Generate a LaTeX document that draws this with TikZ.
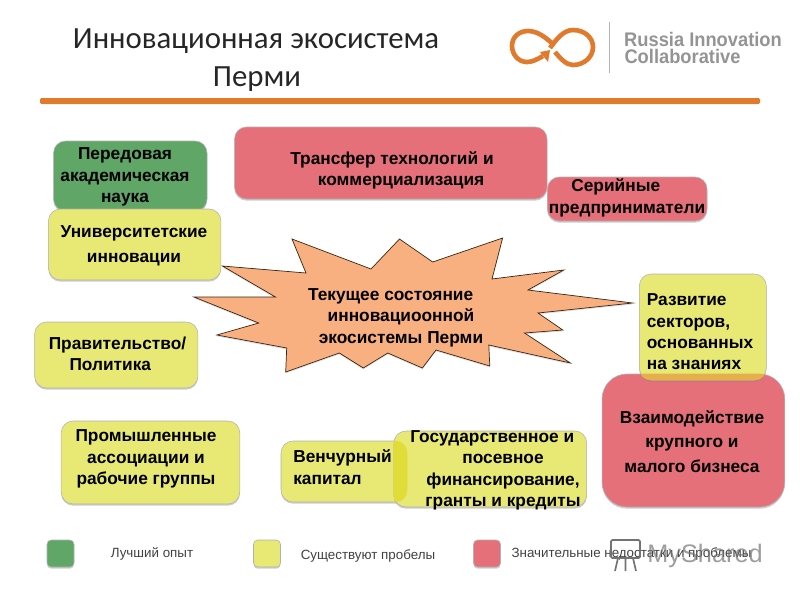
\documentclass[tikz,border=0pt]{standalone}
\usepackage{fontspec}
\setmainfont{Liberation Sans}
\newfontfamily\titlefont{Carlito}
\usetikzlibrary{shadows}
\definecolor{boxgreen}{HTML}{5FA667}
\definecolor{boxyellow}{HTML}{E8E874}
\definecolor{boxred}{HTML}{E6707A}
\definecolor{starfill}{HTML}{F9B080}
\definecolor{logoorange}{HTML}{E07B2E}
\definecolor{overlapyellow}{HTML}{E0DC38}
\definecolor{overlaporange}{HTML}{E4B04C}
\tikzset{
  box/.style={rectangle,rounded corners=12*0.025cm,draw=black!30,line width=.4pt,
    drop shadow={shadow xshift=0pt,shadow yshift=-1.2pt,opacity=.4}},
  boxsize/.style 2 args={minimum width=#1*0.025cm,minimum height=#2*0.025cm},
  boxtext/.style={align=center,font=\fontsize{12.3}{15.2}\selectfont\bfseries,inner sep=0pt},
  widetext/.style={boxtext,font=\fontsize{12.3}{17.6}\selectfont\bfseries},
  legendtext/.style={font=\fontsize{9.5}{11}\selectfont,text=black!75,inner sep=0pt},
  brandtext/.style={font=\fontsize{14}{16}\selectfont\bfseries,text=black!42,inner sep=0pt,xscale=.93},
  titletext/.style={font=\titlefont\fontsize{21.9}{26}\selectfont,text=black!85,inner sep=0pt},
}
\begin{document}
\begin{tikzpicture}[x=0.025cm,y=-0.025cm]
\useasboundingbox (0,0) rectangle (800,600);
%Header
\node at (256,41) [titletext] (Title1) {Инновационная экосистема};
\node at (257,79) [titletext] (Title2) {Перми};
\fill [logoorange,rounded corners=1pt] (40,98) rectangle (760,104);
\draw [black!30,line width=.7pt] (609,22) -- (609,73);
\draw [logoorange,line width=3.3pt] (543,56) .. controls (536,60) and (532,62) .. (527,62)
  .. controls (518,62) and (512,54) .. (512,46) .. controls (512,37) and (519,31) .. (528,31)
  .. controls (538,31) and (546,38) .. (553,44);
\draw [logoorange,line width=3.3pt] (550,48) .. controls (556,40) and (563,30) .. (573,30)
  .. controls (585,30) and (593,38) .. (593,47) .. controls (593,57) and (584,65) .. (573,65)
  .. controls (566,65) and (560,58) .. (555,52);
\fill [logoorange] (540,52) -- (550,50) -- (548,62) -- cycle;
\node at (703,39) [brandtext] (Brand1) {Russia Innovation};
\node at (682.5,56.5) [brandtext] (Brand2) {Collaborative};
%Star
\draw [black!70!brown,fill=starfill,line width=.5pt,drop shadow={shadow xshift=0pt,shadow yshift=-1pt,opacity=.25}]
  (222.4,266) -- (306,273) -- (292,239) -- (371,269) -- (399.5,239) -- (432.7,262) -- (502.6,238)
  -- (492,279) -- (563.8,270) -- (528,290) -- (632.7,303) -- (538,313) -- (562.8,330) -- (524.5,333)
  -- (570.4,363) -- (488.8,345) -- (489.8,366) -- (436,350) -- (422.4,368) -- (387.8,353) -- (363.3,368)
  -- (339.3,353) -- (285.7,372) -- (286.7,348) -- (216.8,335) -- (258.7,323) -- (193.9,297) -- (275.5,297) -- cycle;
%Boxes
\node at (130.3,176) [box,boxsize={153.5}{70},fill=boxgreen] (Science) {};
\node at (134.7,244.5) [box,boxsize={172.5}{71},fill=boxyellow] (University) {};
\node at (390.8,163) [box,boxsize={312.5}{72},fill=boxred] (Transfer) {};
\node at (627.2,199) [box,boxsize={159.6}{44},fill=boxred] (Serial) {};
\node at (693.4,440.5) [box,boxsize={182.7}{133},fill=boxred,rounded corners=25*0.025cm] (Business) {};
\node at (702.8,327) [box,boxsize={127}{106},fill=boxyellow] (Sectors) {};
\node at (116.3,355) [box,boxsize={163.3}{66},fill=boxyellow] (Policy) {};
\node at (150.5,462.5) [box,boxsize={178.6}{83},fill=boxyellow] (Industry) {};
\node at (344,471.5) [box,boxsize={126}{61},fill=boxyellow] (Venture) {};
\node at (490.3,469) [box,boxsize={192.8}{76},fill=boxyellow] (Funding) {};
%Overlaps
\begin{scope}
\clip [rounded corners=12*0.025cm] (Venture.south west) rectangle (Venture.north east);
\fill [rounded corners=12*0.025cm,fill=overlapyellow] (Funding.south west) rectangle (Funding.north east);
\end{scope}
\begin{scope}
\clip [rounded corners=25*0.025cm] (Business.south west) rectangle (Business.north east);
\fill [rounded corners=12*0.025cm,fill=overlaporange] (Sectors.south west) rectangle (Sectors.north east);
\end{scope}
%Node Labels
\node at (125,177) [boxtext] (ScienceLabel) {Передовая\\академическая\\наука};
\node at (134,245.5) [widetext] (UniversityLabel) {Университетские\\инновации};
\node at (392,170.5) [boxtext] (TransferLabel) {Трансфер технологий и\\\hspace*{1.05em}коммерциализация};
\node at (627,198) [boxtext] (SerialLabel) {Серийные\hspace*{1.3em}\\предприниматели};
\node at (700,332) [boxtext,align=left] (SectorsLabel) {Развитие\\секторов,\\основанных\\на знаниях};
\node at (692,441.5) [widetext] (BusinessLabel) {Взаимодействие\\крупного и\\малого бизнеса};
\node at (117.5,354) [boxtext,align=left] (PolicyLabel) {Правительство/\\\hspace*{1.2em}Политика};
\node at (146,459) [boxtext] (IndustryLabel) {Промышленные\\ассоциации и\\рабочие группы};
\node at (342.5,467) [boxtext,align=left] (VentureLabel) {Венчурный\\капитал};
\node at (503,470.5) [boxtext] (FundingLabel) {Государственное и\hspace*{1.25em}\\посевное\\финансирование,\\гранты и кредиты};
\node at (401,317.5) [boxtext] (StarLabel) {Текущее состояние\hspace*{1.2em}\\инновациоонной\\экосистемы Перми};
%Legend
\node at (60.5,553.5) [box,boxsize={27}{27},rounded corners=3pt,fill=boxgreen] (LegendGreen) {};
\node at (267,553.5) [box,boxsize={27}{27},rounded corners=3pt,fill=boxyellow] (LegendYellow) {};
\node at (487,553.5) [box,boxsize={27}{27},rounded corners=3pt,fill=boxred] (LegendRed) {};
\node at (152,553.5) [legendtext] (LegendGreenLabel) {Лучший опыт};
\node at (368,556) [legendtext] (LegendYellowLabel) {Существуют пробелы};
\node at (631.5,553.5) [legendtext] (LegendRedLabel) {Значительные недостатки и проблемы};
%Watermark
\node at (705,556) [font=\fontsize{18}{22}\selectfont,text=black!55,inner sep=0pt,opacity=.7] (Watermark) {MyShared};
\draw [black!55,line width=1.2pt,rounded corners=1pt] (611,540) rectangle (640,558);
\draw [black!55,line width=1.2pt] (618,558) -- (615,571) (633,558) -- (636,571) (625.5,558) -- (625.5,571);
\end{tikzpicture}
\end{document}
